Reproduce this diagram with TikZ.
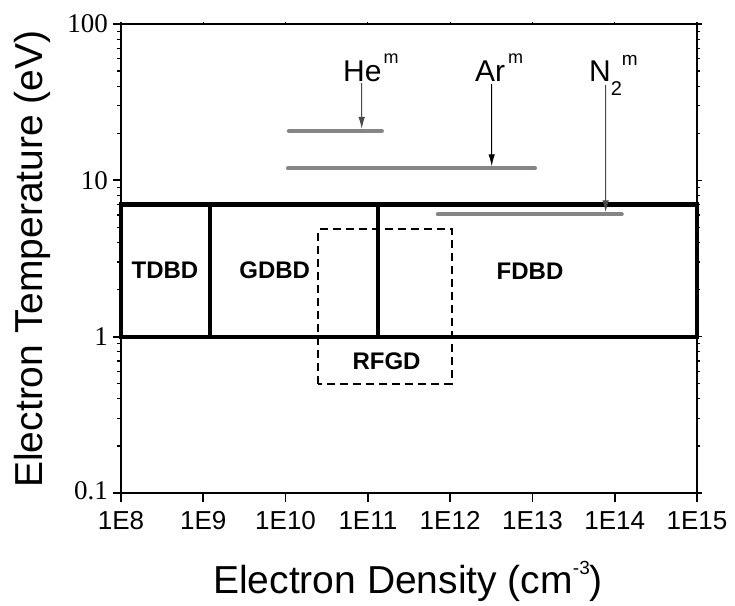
\documentclass[tikz,border=0pt]{standalone}
\usepackage{fontspec}
\setmainfont{Liberation Sans}
\newfontfamily\serifnum{Liberation Serif}
\usetikzlibrary{arrows.meta}
\definecolor{bargray}{HTML}{858585}
\definecolor{arrgray}{HTML}{4A4A4A}
\tikzset{
  frameline/.style={line width=1.8pt},
  regionbox/.style={line width=4.2pt},
  rfbox/.style={line width=1.8pt, dash pattern=on 8pt off 5pt},
  energyline/.style={line width=4.2pt, color=bargray, line cap=round},
  pointer/.style={line width=1pt, -{Latex[length=12pt,width=6.5pt]}},
  ticklab/.style={font=\fontsize{26}{26}\selectfont, anchor=base, inner sep=0pt},
  ylab/.style={font=\serifnum\fontsize{27}{27}\selectfont, anchor=base east, inner sep=0pt},
  region/.style={font=\bfseries\fontsize{24}{24}\selectfont, anchor=base, inner sep=0pt},
  species/.style={font=\fontsize{30}{30}\selectfont, anchor=base west, inner sep=0pt},
  axtitle/.style={font=\fontsize{39}{39}\selectfont, inner sep=0pt}
}
\begin{document}
\begin{tikzpicture}[x=1pt,y=-1pt]
\useasboundingbox (0,0) rectangle (735,605);
% data scope: x = log10(n)-8, y = log10(T)
\begin{scope}[shift={(121pt,-336.67pt)}, x=82.286pt, y=156.33pt]
  % frame
  \draw[frameline] (0,-1) rectangle (7,2);
  % left / right ticks
  \foreach \d in {-1,0,1,2} {
    \draw[frameline] (0,\d) -- ++(-8pt,0);
    \draw[line width=1.2pt] (7,\d) -- ++(5pt,0);
  }
  \foreach \d in {-1,0,1} {
    \foreach \k in {2,...,9} {
      \draw[line width=1.2pt] (0,{\d+log10(\k)}) -- ++(-4.5pt,0);
      \draw[line width=1.2pt] (7,{\d+log10(\k)}) -- ++(3pt,0);
    }
  }
  % bottom / top ticks
  \foreach \e in {0,...,7} {
    \draw[frameline] (\e,-1) -- ++(0,-9pt);
    \draw[line width=1.2pt] (\e,2) -- ++(0,2pt);
  }
  % regions
  \draw[regionbox] (0,0) rectangle (7,{log10(7)});
  \draw[regionbox] (1.082,0) -- (1.082,{log10(7)});
  \draw[regionbox] (3.123,0) -- (3.123,{log10(7)});
  \draw[rfbox] (2.398,{log10(0.5)}) rectangle (4.019,0.687);
  % metastable energy lines
  \coordinate (heL) at (2.04,1.316);  \coordinate (heR) at (3.17,1.316);
  \coordinate (arL) at (2.03,1.077);  \coordinate (arR) at (5.03,1.077);
  \coordinate (n2L) at (3.85,0.783);  \coordinate (n2R) at (6.085,0.783);
  \draw[energyline] (heL) -- (heR);
  \draw[energyline] (arL) -- (arR);
  \draw[energyline] (n2L) -- (n2R);
  \coordinate (heTip) at (2.925,1.316);
  \coordinate (arTip) at (4.505,1.077);
  \coordinate (n2Tip) at (5.890,0.783);
\end{scope}

% species labels
\node[species] (heLbl) at (343,81) {He\hspace{2pt}\raisebox{18pt}{\fontsize{18}{18}\selectfont m}};
\node[species] (arLbl) at (475,81) {Ar\hspace{3pt}\raisebox{18pt}{\fontsize{18}{18}\selectfont m}};
\node[species] (n2Lbl) at (589,81) {N\raisebox{-14pt}{\fontsize{20}{20}\selectfont 2}\raisebox{16pt}{\fontsize{19}{19}\selectfont m}};
\coordinate (heTop) at (361.7,83);
\coordinate (arTop) at (491.7,84);
\coordinate (n2Top) at (605.7,85);
\draw[pointer, color=arrgray] (heTop) -- ([yshift=2pt]heTip);
\draw[pointer, color=black] (arTop) -- ([yshift=2pt]arTip);
\draw[pointer, color=arrgray] (n2Top) -- ([yshift=2pt]n2Tip);

% region labels
\node[region] (tdbd) at (165,278) {TDBD};
\node[region] (gdbd) at (274.7,278) {GDBD};
\node[region] (fdbd) at (530,279.3) {FDBD};
\node[region] (rfgd) at (386.5,369.3) {RFGD};

% y tick labels
\node[ylab] (y100) at (108,32) {100};
\node[ylab] (y10) at (108,189) {10};
\node[ylab] (y1) at (108,345) {1};
\node[ylab] (y01) at (108,499) {0.1};

% x tick labels
\node[ticklab] (x8) at (121,529) {1E8};
\node[ticklab] (x9) at (203.3,529) {1E9};
\node[ticklab] (x10) at (285.6,529) {1E10};
\node[ticklab] (x11) at (367.9,529) {1E11};
\node[ticklab] (x12) at (450.1,529) {1E12};
\node[ticklab] (x13) at (532.4,529) {1E13};
\node[ticklab] (x14) at (614.7,529) {1E14};
\node[ticklab] (x15) at (697,529) {1E15};

% axis titles
\node[axtitle, anchor=base] (xtitle) at (408,593) {Electron Density (cm\raisebox{19pt}{\fontsize{19}{19}\selectfont -3})};
\node[axtitle, anchor=base, rotate=90] (ytitle) at (42,259) {Electron Temperature (eV)};
\end{tikzpicture}
\end{document}
